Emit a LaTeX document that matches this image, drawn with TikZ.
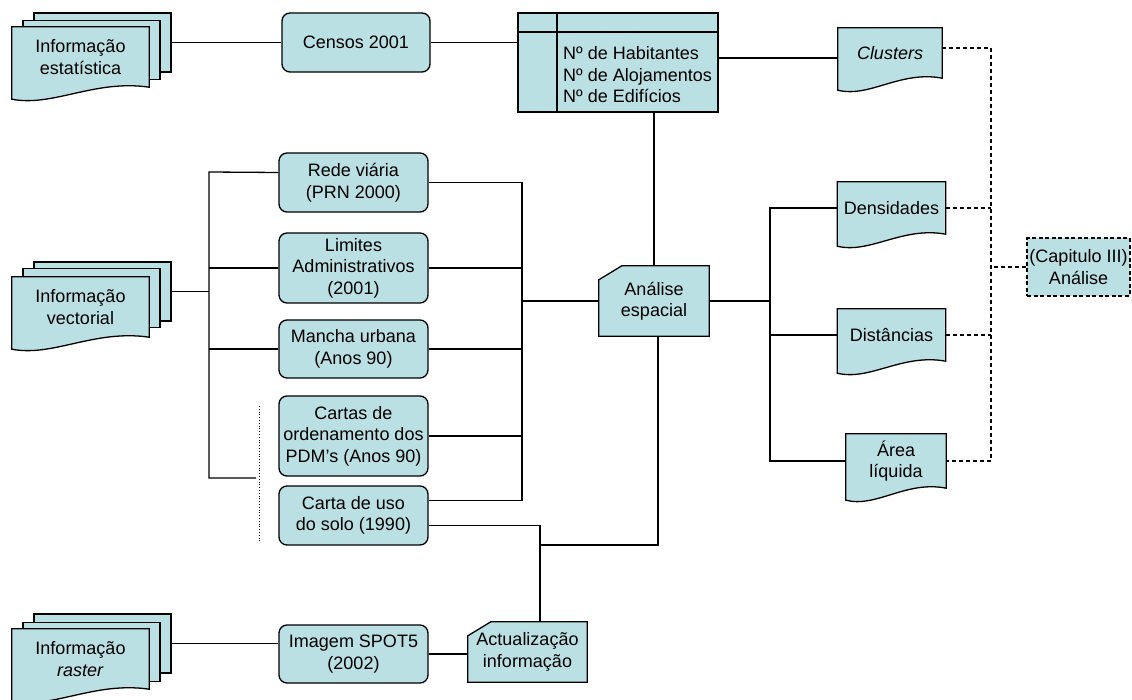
\documentclass[tikz,border=0pt]{standalone}
\usepackage{fontspec}
\setmainfont{Liberation Sans}
\usetikzlibrary{calc}
\definecolor{boxfill}{RGB}{187,224,227}

\tikzset{
  every node/.style={font=\fontsize{18}{21.5}\selectfont, inner sep=2pt},
  link/.style={line width=1.3pt},
  dashlink/.style={line width=1.3pt, dash pattern=on 4pt off 3pt},
  shapeline/.style={draw=black, line width=1.3pt},
  procbox/.style={draw, line width=1.3pt, fill=boxfill, rounded corners=8pt,
    minimum width=149, minimum height=59, align=center},
  stackback/.style={draw, line width=1.3pt, fill=boxfill,
    minimum width=137, minimum height=59},
  % document with a wavy lower edge
  docshape/.style={minimum width=#1, minimum height=52, align=center,
    append after command={\pgfextra{
      \draw[shapeline, fill=boxfill] (\tikzlastnode.north west) -- (\tikzlastnode.north east)
        -- (\tikzlastnode.south east)
        .. controls ($(\tikzlastnode.south west)!0.6!(\tikzlastnode.south east)+(0,-8)$)
        and ($(\tikzlastnode.south west)!0.3!(\tikzlastnode.south east)+(0,20)$)
        .. ($(\tikzlastnode.south west)+(0,12)$) -- cycle;}}},
  % card with the top left corner cut off
  cardbox/.style={align=center,
    append after command={\pgfextra{
      \draw[shapeline, fill=boxfill] ($(\tikzlastnode.north west)+(0,14)$)
        -- ($(\tikzlastnode.north west)+(23,0)$) -- (\tikzlastnode.north east)
        -- (\tikzlastnode.south east) -- (\tikzlastnode.south west) -- cycle;}}},
  tablebox/.style={draw, line width=1.3pt, fill=boxfill, minimum width=200, minimum height=99,
    path picture={
      \draw[line width=1.3pt] ([xshift=39pt]path picture bounding box.north west)
        -- ([xshift=39pt]path picture bounding box.south west);
      \draw[line width=1.3pt] ([yshift=-19pt]path picture bounding box.north west)
        -- ([yshift=-19pt]path picture bounding box.north east);}},
  chapbox/.style={draw, line width=2pt, dash pattern=on 4pt off 2.5pt, fill=boxfill,
    minimum width=97, minimum height=58, align=center},
}

\begin{document}
\begin{tikzpicture}[x=1pt,y=-1pt]
    \useasboundingbox (0,0) rectangle (1132,700);

    % source data (stacks of documents)
    \node[stackback] (estat3) at (102.5,42.5) {};
    \node[stackback] (estat2) at (91.5,50) {};
    \node[docshape=137, minimum height=60] (estat) at (80.5,57) {Informação\\estatística};

    \node[stackback] (vect3) at (102.5,291.5) {};
    \node[stackback] (vect2) at (91.5,298) {};
    \node[docshape=137, minimum height=60] (vect) at (80.5,307) {Informação\\vectorial};

    \node[stackback] (rast3) at (102.5,643.5) {};
    \node[stackback] (rast2) at (91.5,652) {};
    \node[docshape=137, minimum height=60] (rast) at (80.5,659) {Informação\\\textit{raster}};

    % data sets
    \node[procbox, minimum width=148] (censos) at (356,42.5) {Censos 2001};
    \node[procbox] (rede) at (353.5,182.5) {Rede viária\\(PRN 2000)};
    \node[procbox, minimum height=70] (limites) at (353.5,268) {Limites\\Administrativos\\(2001)};
    \node[procbox, minimum height=58] (mancha) at (353.5,349) {Mancha urbana\\(Anos 90)};
    \node[procbox, minimum height=80] (cartas) at (353.5,436) {Cartas de\\ordenamento dos\\PDM’s (Anos 90)};
    \node[procbox] (uso) at (353.5,515.5) {Carta de uso\\do solo (1990)};
    \node[procbox, minimum height=58] (spot) at (353.5,654) {Imagem SPOT5\\(2002)};

    % census table
    \node[tablebox] (tab) at (618,62.5) {};
    \node[anchor=west, align=left] (tabtxt) at (561,75) {Nº de Habitantes\\Nº de Alojamentos\\Nº de Edifícios};

    % processing
    \node[cardbox, minimum width=110, minimum height=70] (analise) at (654,301) {Análise\\espacial};
    \node[cardbox, minimum width=119, minimum height=60] (actual) at (527.5,652) {Actualização\\informação};

    % results
    \node[docshape=104, minimum height=50] (clusters) at (890,53) {\textit{Clusters}};
    \node[docshape=108] (dens) at (891.5,208) {Densidades};
    \node[docshape=108] (dist) at (891.5,335) {Distâncias};
    \node[docshape=100, minimum height=54] (area) at (896,461) {Área\\líquida};
    \node[chapbox] (cap) at (1078.5,267) {(Capitulo III)\\Análise};

    % junctions
    \coordinate (lbus) at (209,172);
    \coordinate (lstub) at (256,478);
    \coordinate (rbus) at (522,0);
    \coordinate (cbus) at (540,545);
    \coordinate (obus) at (770,0);
    \coordinate (dbus) at (991,0);
    \coordinate (dot1) at (259,406);
    \coordinate (dot2) at (259,543);

    % top row
    \draw[link] (estat3) -- (censos);
    \draw[link] (censos.east) -- (censos.east -| tab.west);
    \draw[link] ([yshift=-5pt]clusters.west) -- ([yshift=-5pt]clusters.west -| tab.east);
    \draw[link] (analise.north) -- (analise.north |- tab.south);

    % vector data
    \draw[link] ([yshift=10pt]rede.west) -- (lbus) |- (lstub);
    \draw[link] (vect3) -- (vect3 -| lbus);
    \draw[link] (limites) -- (limites -| lbus);
    \draw[link] (mancha) -- (mancha -| lbus);
    \draw[dotted, line width=0.8pt] (dot1) -- (dot2);

    \draw[link] (rede) -- (rede -| rbus) |- ([yshift=15pt]uso.east);
    \draw[link] (limites) -- (limites -| rbus);
    \draw[link] (mancha) -- (mancha -| rbus);
    \draw[link] (cartas) -- (cartas -| rbus);
    \draw[link] (analise) -- (analise -| rbus);

    % update branch
    \draw[link] ([yshift=-10pt]uso.east) -| (cbus) -- (cbus |- actual.north);
    \draw[link] ([xshift=4pt]analise.south) |- (cbus);
    \draw[link] (rast3) -- (rast3 -| spot.west);
    \draw[link] (spot.east) -- (spot.east -| actual.west);

    % results
    \draw[link] (analise) -- (analise -| obus);
    \draw[link] (dens) -- (dens -| obus) |- (area);
    \draw[link] (dist) -- (dist -| obus);

    \draw[dashlink] ([yshift=5pt]clusters.east) -| (dbus |- area) -- (area);
    \draw[dashlink] (dens) -- (dens -| dbus);
    \draw[dashlink] (dist) -- (dist -| dbus);
    \draw[dashlink] (cap) -- (cap -| dbus);
\end{tikzpicture}
\end{document}
